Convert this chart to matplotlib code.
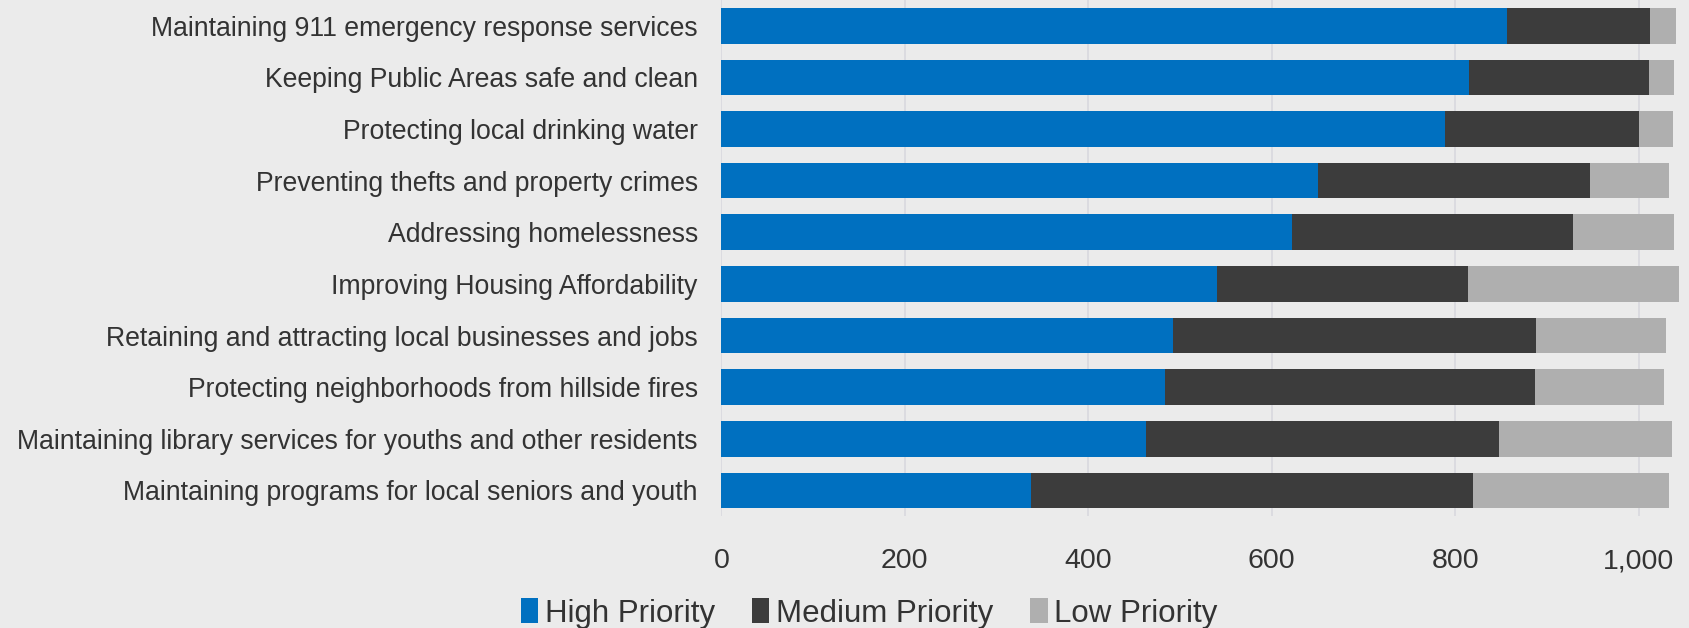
import matplotlib
matplotlib.use("Agg")
import matplotlib.pyplot as plt
from matplotlib.ticker import FuncFormatter
from matplotlib import font_manager

categories = [
    "Maintaining 911 emergency response services",
    "Keeping Public Areas safe and clean",
    "Protecting local drinking water",
    "Preventing thefts and property crimes",
    "Addressing homelessness",
    "Improving Housing Affordability",
    "Retaining and attracting local businesses and jobs",
    "Protecting neighborhoods from hillside fires",
    "Maintaining library services for youths and other residents",
    "Maintaining programs for local seniors and youth",
]
high = [857, 815, 789, 651, 622, 540, 492, 484, 463, 338]
medium = [156, 196, 212, 296, 307, 274, 396, 403, 385, 482]
low = [28, 28, 37, 86, 110, 230, 142, 141, 188, 213]
series_names = ["High Priority", "Medium Priority", "Low Priority"]
xticks = [0, 200, 400, 600, 800, 1000]

names = {f.name for f in font_manager.fontManager.ttflist}
fam = [f for f in ["Liberation Sans Narrow", "Liberation Sans", "DejaVu Sans"] if f in names]
plt.rcParams['font.family'] = fam

bg = "#EBEBEB"
colors = ["#0070C0", "#3C3C3C", "#AFAFAF"]
txt = "#333333"

fig = plt.figure(figsize=(16.89, 6.28), dpi=100, facecolor=bg)
ax = fig.add_axes([0.4271, 0.178, 0.5729, 0.822])
ax.set_facecolor(bg)

y = list(range(len(categories)))
left = [0] * len(categories)
for vals, c, name in zip([high, medium, low], colors, series_names):
    ax.barh(y, vals, left=left, height=0.69, color=c, label=name, zorder=3)
    left = [a + b for a, b in zip(left, vals)]

ax.set_ylim(len(categories) - 0.5, -0.5)
ax.set_xlim(0, 1055)
ax.set_yticks(y)
ax.set_yticklabels(categories, fontsize=19.2, color=txt)
ax.set_xticks(xticks)
ax.xaxis.set_major_formatter(FuncFormatter(lambda v, p: f"{int(v):,}"))
ax.tick_params(axis='x', labelsize=20.5, colors=txt, length=0, pad=23)
ax.tick_params(axis='y', length=0, pad=17)
ax.grid(axis='x', color="#D8D8DE", linewidth=1.2, zorder=0)
for s in ax.spines.values():
    s.set_visible(False)

handles, labels = ax.get_legend_handles_labels()
fig.legend(handles, labels, loc='center', bbox_to_anchor=(0.5146, 0.023), ncol=3,
           frameon=False, fontsize=22.5, handlelength=0.55, handleheight=0.85,
           handletextpad=0.2, columnspacing=1.2, labelcolor=txt)

fig.savefig("out.png", dpi=100, facecolor=bg)
